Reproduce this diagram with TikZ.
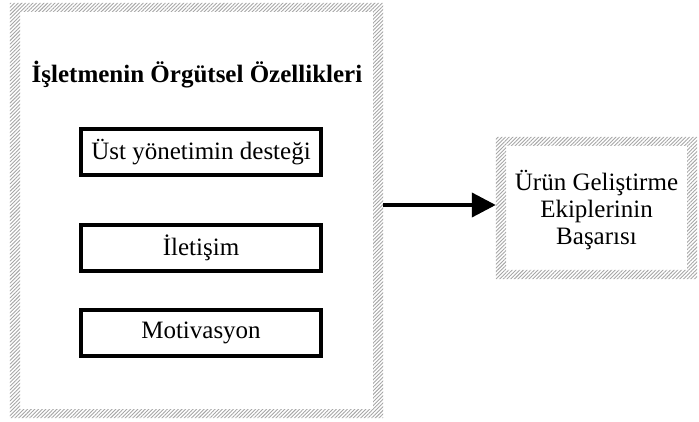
\documentclass[tikz,border=0pt]{standalone}
\usepackage{fontspec}
\setmainfont{Liberation Serif}
\usetikzlibrary{arrows.meta,patterns.meta,positioning}
\tikzset{
  hatch/.style={even odd rule, pattern={Lines[angle=45,distance=2.6pt,line width=0.9pt]}, pattern color=black!35},
  itembox/.style={draw=black, line width=4pt, minimum width=240pt, minimum height=46pt, inner sep=0pt, font=\fontsize{25}{27}\selectfont},
  frame/.style={inner sep=0pt},
  arr/.style={line width=4pt, -{Triangle[length=24pt,width=24pt]}}
}
\begin{document}
\begin{tikzpicture}[x=1pt,y=-1pt]
\useasboundingbox (0,0) rectangle (699,422);
% frames
\node[frame, minimum width=373pt, minimum height=415pt] (main) at (196.5,210.5) {};
\node[frame, minimum width=201pt, minimum height=142pt] (result) at (596.5,208) {};
\path[hatch] (main.north west) rectangle (main.south east) (20,12) rectangle (373,409);
\path[hatch] (result.north west) rectangle (result.south east) (506,146) rectangle (687,270);
% title
\node[anchor=base, font=\bfseries\fontsize{25}{27}\selectfont] (title) at (197,83) {İşletmenin Örgütsel Özellikleri};
% items
\node[itembox] (b1) at (201,152) {Üst yönetimin desteği};
\node[itembox] (b2) at (201,248) {İletişim};
\node[itembox] (b3) at (201,333) {Motivasyon};
% result text
\node[align=center, font=\fontsize{25}{27}\selectfont, inner sep=0pt] (rt) at ([yshift=-2pt]result.center) {Ürün Geliştirme\\Ekiplerinin\\Başarısı};
% arrow
\coordinate (ay) at (0,205);
\draw[arr] (main.east |- ay) -- (result.west |- ay);
\end{tikzpicture}
\end{document}
